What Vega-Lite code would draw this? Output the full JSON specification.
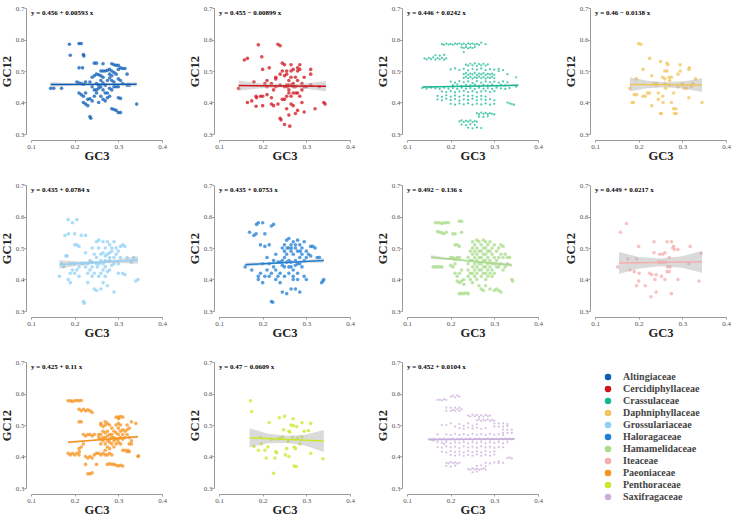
{
"$schema": "https://vega.github.io/schema/vega-lite/v6.json",
"background": "white",
"padding": {"left": 0, "top": 4, "right": 0, "bottom": 0},
"config": {
 "view": {"stroke": null},
 "font": "Liberation Serif",
 "header": {"labels": false, "title": null, "labelFontSize": 0, "labelPadding": 0, "titlePadding": 0},
 "headerFacet": {"labels": false, "title": null, "labelFontSize": 0, "labelPadding": 0, "titlePadding": 0},
 "axis": {"grid": false, "domainColor": "#9a9a9a", "tickColor": "#9a9a9a", "tickSize": 2, "labelColor": "#555555", "labelFont": "Liberation Serif", "labelFontSize": 7, "titleFont": "Liberation Serif", "titleFontSize": 12.5, "titleFontWeight": "bold", "titleColor": "#222222", "labelPadding": 0, "labelOverlap": false, "labelBound": false, "labelFlush": false},
 "axisX": {"offset": 6, "titlePadding": 0},
 "axisY": {"offset": 5, "titlePadding": 2},
 "legend": {"orient": "none", "legendX": 572, "legendY": 364, "title": null, "symbolType": "circle", "symbolSize": 25, "symbolOpacity": 1, "labelFont": "Liberation Serif", "labelFontWeight": "bold", "labelFontSize": 10, "labelColor": "#444444", "rowPadding": 0, "labelOffset": 10}
},
"data": {"values": [
{"g":"a","x":0.145,"y":0.445},{"g":"a","x":0.152,"y":0.445},{"g":"a","x":0.17,"y":0.445},{"g":"a","x":0.188,"y":0.585},{"g":"a","x":0.19,"y":0.55},{"g":"a","x":0.21,"y":0.587},{"g":"a","x":0.215,"y":0.587},{"g":"a","x":0.22,"y":0.552},{"g":"a","x":0.221,"y":0.548},{"g":"a","x":0.21,"y":0.51},{"g":"a","x":0.218,"y":0.51},{"g":"a","x":0.245,"y":0.525},{"g":"a","x":0.25,"y":0.525},{"g":"a","x":0.265,"y":0.523},{"g":"a","x":0.285,"y":0.523},{"g":"a","x":0.29,"y":0.52},{"g":"a","x":0.295,"y":0.518},{"g":"a","x":0.3,"y":0.518},
{"g":"a","x":0.205,"y":0.465},{"g":"a","x":0.21,"y":0.462},{"g":"a","x":0.215,"y":0.46},{"g":"a","x":0.22,"y":0.458},{"g":"a","x":0.225,"y":0.465},{"g":"a","x":0.235,"y":0.465},{"g":"a","x":0.24,"y":0.48},{"g":"a","x":0.245,"y":0.485},{"g":"a","x":0.25,"y":0.49},{"g":"a","x":0.255,"y":0.488},{"g":"a","x":0.26,"y":0.485},{"g":"a","x":0.265,"y":0.48},{"g":"a","x":0.27,"y":0.5},{"g":"a","x":0.275,"y":0.502},{"g":"a","x":0.28,"y":0.505},{"g":"a","x":0.285,"y":0.5},{"g":"a","x":0.29,"y":0.495},{"g":"a","x":0.295,"y":0.49},{"g":"a","x":0.3,"y":0.505},{"g":"a","x":0.305,"y":0.51},{"g":"a","x":0.31,"y":0.508},{"g":"a","x":0.315,"y":0.508},{"g":"a","x":0.32,"y":0.49},{"g":"a","x":0.32,"y":0.455},{"g":"a","x":0.325,"y":0.455},
{"g":"a","x":0.21,"y":0.43},{"g":"a","x":0.215,"y":0.425},{"g":"a","x":0.22,"y":0.42},{"g":"a","x":0.225,"y":0.43},{"g":"a","x":0.23,"y":0.41},{"g":"a","x":0.22,"y":0.4},{"g":"a","x":0.225,"y":0.395},{"g":"a","x":0.23,"y":0.39},{"g":"a","x":0.235,"y":0.412},{"g":"a","x":0.24,"y":0.405},{"g":"a","x":0.245,"y":0.42},{"g":"a","x":0.25,"y":0.44},{"g":"a","x":0.255,"y":0.445},{"g":"a","x":0.26,"y":0.45},{"g":"a","x":0.265,"y":0.44},{"g":"a","x":0.27,"y":0.43},{"g":"a","x":0.275,"y":0.415},{"g":"a","x":0.28,"y":0.42},{"g":"a","x":0.285,"y":0.44},{"g":"a","x":0.29,"y":0.45},{"g":"a","x":0.295,"y":0.45},{"g":"a","x":0.3,"y":0.415},{"g":"a","x":0.305,"y":0.413},{"g":"a","x":0.29,"y":0.378},{"g":"a","x":0.295,"y":0.375},{"g":"a","x":0.3,"y":0.368},{"g":"a","x":0.305,"y":0.368},{"g":"a","x":0.285,"y":0.38},{"g":"a","x":0.235,"y":0.355},{"g":"a","x":0.237,"y":0.35},{"g":"a","x":0.342,"y":0.395},
{"g":"a","x":0.25,"y":0.46},{"g":"a","x":0.255,"y":0.455},{"g":"a","x":0.26,"y":0.47},{"g":"a","x":0.265,"y":0.462},{"g":"a","x":0.27,"y":0.455},{"g":"a","x":0.275,"y":0.47},{"g":"a","x":0.28,"y":0.478},{"g":"a","x":0.285,"y":0.47},{"g":"a","x":0.29,"y":0.465},{"g":"a","x":0.3,"y":0.475},{"g":"a","x":0.305,"y":0.47},{"g":"a","x":0.25,"y":0.43},{"g":"a","x":0.26,"y":0.42},{"g":"a","x":0.265,"y":0.41},{"g":"a","x":0.27,"y":0.405},{"g":"a","x":0.255,"y":0.4},{"g":"a","x":0.245,"y":0.44},{"g":"a","x":0.24,"y":0.45},{"g":"a","x":0.26,"y":0.5},{"g":"a","x":0.265,"y":0.5},{"g":"a","x":0.28,"y":0.49},{"g":"a","x":0.285,"y":0.485},{"g":"a","x":0.3,"y":0.45},{"g":"a","x":0.31,"y":0.46},{"g":"a","x":0.275,"y":0.43},{"g":"a","x":0.28,"y":0.445},

{"g":"b","x":0.145,"y":0.445},{"g":"b","x":0.158,"y":0.535},{"g":"b","x":0.165,"y":0.54},{"g":"b","x":0.165,"y":0.4},{"g":"b","x":0.175,"y":0.405},{"g":"b","x":0.18,"y":0.465},{"g":"b","x":0.185,"y":0.42},{"g":"b","x":0.186,"y":0.415},{"g":"b","x":0.185,"y":0.388},{"g":"b","x":0.19,"y":0.583},{"g":"b","x":0.195,"y":0.42},{"g":"b","x":0.198,"y":0.545},{"g":"b","x":0.2,"y":0.39},{"g":"b","x":0.2,"y":0.505},{"g":"b","x":0.205,"y":0.46},{"g":"b","x":0.21,"y":0.47},{"g":"b","x":0.21,"y":0.425},{"g":"b","x":0.215,"y":0.51},{"g":"b","x":0.22,"y":0.415},{"g":"b","x":0.225,"y":0.44},{"g":"b","x":0.225,"y":0.39},{"g":"b","x":0.23,"y":0.475},{"g":"b","x":0.235,"y":0.395},{"g":"b","x":0.235,"y":0.585},{"g":"b","x":0.24,"y":0.58},{"g":"b","x":0.24,"y":0.35},{"g":"b","x":0.242,"y":0.345},{"g":"b","x":0.245,"y":0.41},{"g":"b","x":0.245,"y":0.5},{"g":"b","x":0.245,"y":0.525},{"g":"b","x":0.25,"y":0.485},{"g":"b","x":0.25,"y":0.52},{"g":"b","x":0.25,"y":0.33},{"g":"b","x":0.255,"y":0.455},{"g":"b","x":0.256,"y":0.45},{"g":"b","x":0.255,"y":0.49},{"g":"b","x":0.26,"y":0.44},{"g":"b","x":0.26,"y":0.47},{"g":"b","x":0.26,"y":0.36},{"g":"b","x":0.262,"y":0.325},{"g":"b","x":0.265,"y":0.5},{"g":"b","x":0.265,"y":0.42},{"g":"b","x":0.265,"y":0.395},{"g":"b","x":0.265,"y":0.52},{"g":"b","x":0.27,"y":0.46},{"g":"b","x":0.27,"y":0.43},{"g":"b","x":0.27,"y":0.505},{"g":"b","x":0.275,"y":0.48},{"g":"b","x":0.275,"y":0.45},{"g":"b","x":0.276,"y":0.43},{"g":"b","x":0.275,"y":0.365},{"g":"b","x":0.28,"y":0.5},{"g":"b","x":0.28,"y":0.51},{"g":"b","x":0.28,"y":0.47},{"g":"b","x":0.28,"y":0.375},{"g":"b","x":0.285,"y":0.505},{"g":"b","x":0.285,"y":0.52},{"g":"b","x":0.285,"y":0.42},{"g":"b","x":0.29,"y":0.44},{"g":"b","x":0.29,"y":0.4},{"g":"b","x":0.295,"y":0.45},{"g":"b","x":0.295,"y":0.48},{"g":"b","x":0.295,"y":0.37},{"g":"b","x":0.3,"y":0.45},{"g":"b","x":0.31,"y":0.505},{"g":"b","x":0.31,"y":0.49},{"g":"b","x":0.31,"y":0.455},{"g":"b","x":0.32,"y":0.38},{"g":"b","x":0.33,"y":0.45},{"g":"b","x":0.34,"y":0.4},{"g":"b","x":0.343,"y":0.395},
{"g":"b","x":0.22,"y":0.46},{"g":"b","x":0.23,"y":0.45},{"g":"b","x":0.24,"y":0.455},{"g":"b","x":0.25,"y":0.45},{"g":"b","x":0.26,"y":0.455},{"g":"b","x":0.266,"y":0.455},{"g":"b","x":0.27,"y":0.45},{"g":"b","x":0.25,"y":0.41},{"g":"b","x":0.255,"y":0.42},{"g":"b","x":0.26,"y":0.43},{"g":"b","x":0.27,"y":0.39},{"g":"b","x":0.24,"y":0.49},{"g":"b","x":0.255,"y":0.5},{"g":"b","x":0.265,"y":0.48},{"g":"b","x":0.23,"y":0.48},{"g":"b","x":0.21,"y":0.45},{"g":"b","x":0.2,"y":0.42},{"g":"b","x":0.28,"y":0.43},{"g":"b","x":0.29,"y":0.46},{"g":"b","x":0.255,"y":0.38},{"g":"b","x":0.22,"y":0.395},

{"g":"c","x":0.18,"y":0.585},{"g":"c","x":0.185,"y":0.583},{"g":"c","x":0.19,"y":0.587},{"g":"c","x":0.195,"y":0.584},{"g":"c","x":0.2,"y":0.586},{"g":"c","x":0.205,"y":0.583},{"g":"c","x":0.21,"y":0.587},{"g":"c","x":0.215,"y":0.585},{"g":"c","x":0.22,"y":0.588},{"g":"c","x":0.225,"y":0.584},{"g":"c","x":0.23,"y":0.587},{"g":"c","x":0.235,"y":0.583},{"g":"c","x":0.24,"y":0.588},{"g":"c","x":0.245,"y":0.585},{"g":"c","x":0.25,"y":0.587},{"g":"c","x":0.255,"y":0.584},{"g":"c","x":0.26,"y":0.586},{"g":"c","x":0.265,"y":0.583},{"g":"c","x":0.27,"y":0.59},{"g":"c","x":0.28,"y":0.585},
{"g":"c","x":0.225,"y":0.575},{"g":"c","x":0.23,"y":0.573},{"g":"c","x":0.235,"y":0.576},{"g":"c","x":0.24,"y":0.572},{"g":"c","x":0.245,"y":0.575},{"g":"c","x":0.25,"y":0.573},{"g":"c","x":0.255,"y":0.576},
{"g":"c","x":0.14,"y":0.54},{"g":"c","x":0.145,"y":0.537},{"g":"c","x":0.15,"y":0.542},{"g":"c","x":0.155,"y":0.538},{"g":"c","x":0.16,"y":0.543},{"g":"c","x":0.165,"y":0.536},{"g":"c","x":0.17,"y":0.541},{"g":"c","x":0.175,"y":0.537},{"g":"c","x":0.18,"y":0.542},{"g":"c","x":0.185,"y":0.536},{"g":"c","x":0.19,"y":0.54},{"g":"c","x":0.165,"y":0.55},{"g":"c","x":0.175,"y":0.549},{"g":"c","x":0.185,"y":0.551},
{"g":"c","x":0.235,"y":0.52},{"g":"c","x":0.24,"y":0.517},{"g":"c","x":0.245,"y":0.523},{"g":"c","x":0.25,"y":0.518},{"g":"c","x":0.255,"y":0.524},{"g":"c","x":0.26,"y":0.516},{"g":"c","x":0.265,"y":0.522},{"g":"c","x":0.27,"y":0.518},{"g":"c","x":0.275,"y":0.523},{"g":"c","x":0.28,"y":0.517},{"g":"c","x":0.285,"y":0.521},
{"g":"c","x":0.2,"y":0.505},{"g":"c","x":0.21,"y":0.508},{"g":"c","x":0.22,"y":0.503},{"g":"c","x":0.23,"y":0.507},{"g":"c","x":0.24,"y":0.502},{"g":"c","x":0.25,"y":0.506},{"g":"c","x":0.26,"y":0.504},{"g":"c","x":0.27,"y":0.508},{"g":"c","x":0.28,"y":0.503},{"g":"c","x":0.29,"y":0.506},{"g":"c","x":0.3,"y":0.504},{"g":"c","x":0.31,"y":0.507},{"g":"c","x":0.32,"y":0.503},
{"g":"c","x":0.23,"y":0.49},{"g":"c","x":0.235,"y":0.493},{"g":"c","x":0.24,"y":0.488},{"g":"c","x":0.245,"y":0.492},{"g":"c","x":0.25,"y":0.489},{"g":"c","x":0.255,"y":0.494},{"g":"c","x":0.26,"y":0.487},{"g":"c","x":0.265,"y":0.492},{"g":"c","x":0.27,"y":0.489},{"g":"c","x":0.275,"y":0.493},{"g":"c","x":0.28,"y":0.488},{"g":"c","x":0.285,"y":0.491},{"g":"c","x":0.29,"y":0.489},{"g":"c","x":0.295,"y":0.492},{"g":"c","x":0.3,"y":0.488},
{"g":"c","x":0.23,"y":0.478},{"g":"c","x":0.235,"y":0.482},{"g":"c","x":0.24,"y":0.477},{"g":"c","x":0.245,"y":0.481},{"g":"c","x":0.25,"y":0.476},{"g":"c","x":0.255,"y":0.48},{"g":"c","x":0.26,"y":0.478},{"g":"c","x":0.265,"y":0.482},{"g":"c","x":0.27,"y":0.477},{"g":"c","x":0.275,"y":0.481},{"g":"c","x":0.28,"y":0.476},{"g":"c","x":0.285,"y":0.48},{"g":"c","x":0.29,"y":0.478},{"g":"c","x":0.295,"y":0.482},{"g":"c","x":0.3,"y":0.477},
{"g":"c","x":0.2,"y":0.466},{"g":"c","x":0.21,"y":0.463},{"g":"c","x":0.22,"y":0.468},{"g":"c","x":0.23,"y":0.464},{"g":"c","x":0.24,"y":0.467},{"g":"c","x":0.25,"y":0.462},{"g":"c","x":0.26,"y":0.468},{"g":"c","x":0.27,"y":0.463},{"g":"c","x":0.28,"y":0.467},{"g":"c","x":0.29,"y":0.464},{"g":"c","x":0.3,"y":0.466},{"g":"c","x":0.31,"y":0.463},{"g":"c","x":0.32,"y":0.467},{"g":"c","x":0.33,"y":0.464},
{"g":"c","x":0.205,"y":0.455},{"g":"c","x":0.215,"y":0.457},{"g":"c","x":0.225,"y":0.453},{"g":"c","x":0.235,"y":0.456},{"g":"c","x":0.245,"y":0.454},{"g":"c","x":0.255,"y":0.457},{"g":"c","x":0.265,"y":0.453},{"g":"c","x":0.275,"y":0.456},{"g":"c","x":0.285,"y":0.454},{"g":"c","x":0.295,"y":0.457},{"g":"c","x":0.305,"y":0.453},{"g":"c","x":0.315,"y":0.456},{"g":"c","x":0.325,"y":0.454},
{"g":"c","x":0.135,"y":0.446},{"g":"c","x":0.145,"y":0.444},{"g":"c","x":0.155,"y":0.447},{"g":"c","x":0.165,"y":0.445},{"g":"c","x":0.175,"y":0.443},{"g":"c","x":0.185,"y":0.447},{"g":"c","x":0.195,"y":0.444},{"g":"c","x":0.205,"y":0.446},{"g":"c","x":0.215,"y":0.443},{"g":"c","x":0.225,"y":0.447},{"g":"c","x":0.235,"y":0.444},{"g":"c","x":0.245,"y":0.446},{"g":"c","x":0.255,"y":0.443},{"g":"c","x":0.265,"y":0.447},{"g":"c","x":0.275,"y":0.444},{"g":"c","x":0.285,"y":0.446},{"g":"c","x":0.295,"y":0.443},{"g":"c","x":0.305,"y":0.447},{"g":"c","x":0.315,"y":0.445},{"g":"c","x":0.325,"y":0.443},{"g":"c","x":0.335,"y":0.446},{"g":"c","x":0.35,"y":0.45},
{"g":"c","x":0.18,"y":0.435},{"g":"c","x":0.19,"y":0.433},{"g":"c","x":0.2,"y":0.436},{"g":"c","x":0.21,"y":0.432},{"g":"c","x":0.22,"y":0.435},{"g":"c","x":0.23,"y":0.437},{"g":"c","x":0.24,"y":0.433},{"g":"c","x":0.25,"y":0.436},{"g":"c","x":0.26,"y":0.432},{"g":"c","x":0.27,"y":0.435},{"g":"c","x":0.28,"y":0.437},{"g":"c","x":0.29,"y":0.433},{"g":"c","x":0.3,"y":0.436},
{"g":"c","x":0.17,"y":0.421},{"g":"c","x":0.18,"y":0.418},{"g":"c","x":0.19,"y":0.423},{"g":"c","x":0.2,"y":0.419},{"g":"c","x":0.21,"y":0.422},{"g":"c","x":0.22,"y":0.418},{"g":"c","x":0.23,"y":0.423},{"g":"c","x":0.24,"y":0.42},{"g":"c","x":0.25,"y":0.422},{"g":"c","x":0.26,"y":0.418},{"g":"c","x":0.27,"y":0.421},{"g":"c","x":0.28,"y":0.419},
{"g":"c","x":0.17,"y":0.41},{"g":"c","x":0.18,"y":0.407},{"g":"c","x":0.19,"y":0.412},{"g":"c","x":0.2,"y":0.408},{"g":"c","x":0.21,"y":0.411},{"g":"c","x":0.22,"y":0.406},{"g":"c","x":0.23,"y":0.41},{"g":"c","x":0.24,"y":0.408},{"g":"c","x":0.25,"y":0.412},{"g":"c","x":0.26,"y":0.407},{"g":"c","x":0.27,"y":0.41},{"g":"c","x":0.28,"y":0.408},{"g":"c","x":0.29,"y":0.411},{"g":"c","x":0.3,"y":0.407},
{"g":"c","x":0.2,"y":0.396},{"g":"c","x":0.21,"y":0.393},{"g":"c","x":0.22,"y":0.397},{"g":"c","x":0.23,"y":0.394},{"g":"c","x":0.24,"y":0.398},{"g":"c","x":0.25,"y":0.393},{"g":"c","x":0.26,"y":0.396},{"g":"c","x":0.27,"y":0.394},{"g":"c","x":0.28,"y":0.397},{"g":"c","x":0.29,"y":0.393},{"g":"c","x":0.3,"y":0.396},{"g":"c","x":0.33,"y":0.4},{"g":"c","x":0.335,"y":0.397},{"g":"c","x":0.34,"y":0.395},{"g":"c","x":0.345,"y":0.393},
{"g":"c","x":0.26,"y":0.366},{"g":"c","x":0.265,"y":0.363},{"g":"c","x":0.27,"y":0.368},{"g":"c","x":0.275,"y":0.364},{"g":"c","x":0.28,"y":0.367},{"g":"c","x":0.285,"y":0.363},{"g":"c","x":0.29,"y":0.366},{"g":"c","x":0.295,"y":0.364},{"g":"c","x":0.3,"y":0.362},{"g":"c","x":0.265,"y":0.355},{"g":"c","x":0.275,"y":0.354},{"g":"c","x":0.285,"y":0.356},
{"g":"c","x":0.22,"y":0.34},{"g":"c","x":0.225,"y":0.343},{"g":"c","x":0.23,"y":0.338},{"g":"c","x":0.235,"y":0.342},{"g":"c","x":0.24,"y":0.339},{"g":"c","x":0.245,"y":0.343},{"g":"c","x":0.25,"y":0.338},{"g":"c","x":0.255,"y":0.341},{"g":"c","x":0.26,"y":0.339},{"g":"c","x":0.225,"y":0.33},{"g":"c","x":0.235,"y":0.328},{"g":"c","x":0.245,"y":0.331},{"g":"c","x":0.255,"y":0.329},{"g":"c","x":0.24,"y":0.32},{"g":"c","x":0.25,"y":0.318},{"g":"c","x":0.26,"y":0.321},{"g":"c","x":0.27,"y":0.319},
{"g":"c","x":0.23,"y":0.56},{"g":"c","x":0.33,"y":0.49},{"g":"c","x":0.35,"y":0.48},{"g":"c","x":0.31,"y":0.5},

{"g":"d","x":0.18,"y":0.445},{"g":"d","x":0.185,"y":0.4},{"g":"d","x":0.188,"y":0.4},{"g":"d","x":0.19,"y":0.425},{"g":"d","x":0.195,"y":0.425},{"g":"d","x":0.195,"y":0.475},{"g":"d","x":0.2,"y":0.587},{"g":"d","x":0.205,"y":0.585},{"g":"d","x":0.21,"y":0.42},{"g":"d","x":0.215,"y":0.42},{"g":"d","x":0.21,"y":0.505},{"g":"d","x":0.22,"y":0.43},{"g":"d","x":0.225,"y":0.43},{"g":"d","x":0.225,"y":0.54},{"g":"d","x":0.23,"y":0.485},{"g":"d","x":0.23,"y":0.39},{"g":"d","x":0.235,"y":0.46},{"g":"d","x":0.24,"y":0.455},{"g":"d","x":0.245,"y":0.43},{"g":"d","x":0.245,"y":0.41},{"g":"d","x":0.25,"y":0.365},{"g":"d","x":0.252,"y":0.365},{"g":"d","x":0.25,"y":0.53},{"g":"d","x":0.255,"y":0.48},{"g":"d","x":0.255,"y":0.42},{"g":"d","x":0.256,"y":0.4},{"g":"d","x":0.26,"y":0.5},{"g":"d","x":0.26,"y":0.475},{"g":"d","x":0.26,"y":0.46},{"g":"d","x":0.262,"y":0.445},{"g":"d","x":0.265,"y":0.525},{"g":"d","x":0.267,"y":0.52},{"g":"d","x":0.265,"y":0.5},{"g":"d","x":0.27,"y":0.48},{"g":"d","x":0.27,"y":0.455},{"g":"d","x":0.275,"y":0.48},{"g":"d","x":0.275,"y":0.4},{"g":"d","x":0.28,"y":0.43},{"g":"d","x":0.28,"y":0.38},{"g":"d","x":0.282,"y":0.365},{"g":"d","x":0.285,"y":0.38},{"g":"d","x":0.286,"y":0.365},{"g":"d","x":0.29,"y":0.45},{"g":"d","x":0.29,"y":0.49},{"g":"d","x":0.295,"y":0.5},{"g":"d","x":0.295,"y":0.52},{"g":"d","x":0.3,"y":0.46},{"g":"d","x":0.305,"y":0.445},{"g":"d","x":0.31,"y":0.445},{"g":"d","x":0.315,"y":0.505},{"g":"d","x":0.316,"y":0.51},{"g":"d","x":0.315,"y":0.415},{"g":"d","x":0.32,"y":0.45},{"g":"d","x":0.322,"y":0.455},{"g":"d","x":0.325,"y":0.46},{"g":"d","x":0.33,"y":0.475},{"g":"d","x":0.345,"y":0.4},{"g":"d","x":0.271,"y":0.47},{"g":"d","x":0.241,"y":0.46},{"g":"d","x":0.3,"y":0.455},

{"g":"e","x":0.165,"y":0.41},{"g":"e","x":0.17,"y":0.45},{"g":"e","x":0.175,"y":0.44},{"g":"e","x":0.178,"y":0.54},{"g":"e","x":0.18,"y":0.475},{"g":"e","x":0.183,"y":0.475},{"g":"e","x":0.185,"y":0.59},{"g":"e","x":0.186,"y":0.545},{"g":"e","x":0.185,"y":0.4},{"g":"e","x":0.19,"y":0.39},{"g":"e","x":0.19,"y":0.42},{"g":"e","x":0.19,"y":0.45},{"g":"e","x":0.195,"y":0.58},{"g":"e","x":0.2,"y":0.545},{"g":"e","x":0.2,"y":0.51},{"g":"e","x":0.205,"y":0.59},{"g":"e","x":0.205,"y":0.51},{"g":"e","x":0.2,"y":0.45},{"g":"e","x":0.205,"y":0.43},{"g":"e","x":0.21,"y":0.44},{"g":"e","x":0.21,"y":0.505},{"g":"e","x":0.21,"y":0.41},{"g":"e","x":0.215,"y":0.54},{"g":"e","x":0.215,"y":0.45},{"g":"e","x":0.22,"y":0.33},{"g":"e","x":0.222,"y":0.325},{"g":"e","x":0.225,"y":0.54},{"g":"e","x":0.225,"y":0.485},{"g":"e","x":0.225,"y":0.44},{"g":"e","x":0.23,"y":0.42},{"g":"e","x":0.23,"y":0.39},{"g":"e","x":0.235,"y":0.46},{"g":"e","x":0.235,"y":0.43},{"g":"e","x":0.24,"y":0.5},{"g":"e","x":0.24,"y":0.41},{"g":"e","x":0.245,"y":0.42},{"g":"e","x":0.245,"y":0.37},{"g":"e","x":0.25,"y":0.52},{"g":"e","x":0.25,"y":0.45},{"g":"e","x":0.25,"y":0.365},{"g":"e","x":0.252,"y":0.44},{"g":"e","x":0.255,"y":0.525},{"g":"e","x":0.255,"y":0.5},{"g":"e","x":0.255,"y":0.41},{"g":"e","x":0.26,"y":0.48},{"g":"e","x":0.26,"y":0.37},{"g":"e","x":0.265,"y":0.52},{"g":"e","x":0.265,"y":0.485},{"g":"e","x":0.265,"y":0.45},{"g":"e","x":0.265,"y":0.43},{"g":"e","x":0.27,"y":0.5},{"g":"e","x":0.27,"y":0.475},{"g":"e","x":0.27,"y":0.44},{"g":"e","x":0.275,"y":0.52},{"g":"e","x":0.275,"y":0.48},{"g":"e","x":0.275,"y":0.425},{"g":"e","x":0.275,"y":0.38},{"g":"e","x":0.28,"y":0.51},{"g":"e","x":0.28,"y":0.485},{"g":"e","x":0.28,"y":0.46},{"g":"e","x":0.285,"y":0.5},{"g":"e","x":0.285,"y":0.49},{"g":"e","x":0.285,"y":0.445},{"g":"e","x":0.29,"y":0.52},{"g":"e","x":0.29,"y":0.47},{"g":"e","x":0.29,"y":0.36},{"g":"e","x":0.295,"y":0.5},{"g":"e","x":0.295,"y":0.48},{"g":"e","x":0.3,"y":0.49},{"g":"e","x":0.3,"y":0.45},{"g":"e","x":0.305,"y":0.505},{"g":"e","x":0.305,"y":0.47},{"g":"e","x":0.31,"y":0.51},{"g":"e","x":0.31,"y":0.42},{"g":"e","x":0.315,"y":0.505},{"g":"e","x":0.315,"y":0.415},{"g":"e","x":0.32,"y":0.47},{"g":"e","x":0.33,"y":0.455},{"g":"e","x":0.335,"y":0.47},{"g":"e","x":0.34,"y":0.395},{"g":"e","x":0.345,"y":0.4},{"g":"e","x":0.25,"y":0.47},{"g":"e","x":0.26,"y":0.46},{"g":"e","x":0.24,"y":0.455},{"g":"e","x":0.27,"y":0.46},{"g":"e","x":0.28,"y":0.47},{"g":"e","x":0.256,"y":0.45},{"g":"e","x":0.245,"y":0.48},{"g":"e","x":0.29,"y":0.45},{"g":"e","x":0.23,"y":0.45},{"g":"e","x":0.22,"y":0.45},{"g":"e","x":0.2,"y":0.42},{"g":"e","x":0.195,"y":0.43},{"g":"e","x":0.26,"y":0.42},{"g":"e","x":0.27,"y":0.41},{"g":"e","x":0.24,"y":0.44},{"g":"e","x":0.28,"y":0.43},{"g":"e","x":0.3,"y":0.42},{"g":"e","x":0.265,"y":0.39},

{"g":"f","x":0.16,"y":0.44},{"g":"f","x":0.17,"y":0.55},{"g":"f","x":0.175,"y":0.43},{"g":"f","x":0.18,"y":0.54},{"g":"f","x":0.185,"y":0.545},{"g":"f","x":0.186,"y":0.575},{"g":"f","x":0.19,"y":0.58},{"g":"f","x":0.19,"y":0.4},{"g":"f","x":0.19,"y":0.41},{"g":"f","x":0.195,"y":0.51},{"g":"f","x":0.195,"y":0.42},{"g":"f","x":0.2,"y":0.58},{"g":"f","x":0.2,"y":0.39},{"g":"f","x":0.2,"y":0.45},{"g":"f","x":0.205,"y":0.505},{"g":"f","x":0.205,"y":0.545},{"g":"f","x":0.21,"y":0.43},{"g":"f","x":0.21,"y":0.47},{"g":"f","x":0.215,"y":0.51},{"g":"f","x":0.215,"y":0.41},{"g":"f","x":0.22,"y":0.33},{"g":"f","x":0.223,"y":0.328},{"g":"f","x":0.22,"y":0.57},{"g":"f","x":0.225,"y":0.575},{"g":"f","x":0.225,"y":0.44},{"g":"f","x":0.23,"y":0.4},{"g":"f","x":0.23,"y":0.48},{"g":"f","x":0.235,"y":0.455},{"g":"f","x":0.24,"y":0.42},{"g":"f","x":0.24,"y":0.39},{"g":"f","x":0.245,"y":0.36},{"g":"f","x":0.245,"y":0.445},{"g":"f","x":0.25,"y":0.49},{"g":"f","x":0.25,"y":0.51},{"g":"f","x":0.25,"y":0.47},{"g":"f","x":0.25,"y":0.41},{"g":"f","x":0.255,"y":0.525},{"g":"f","x":0.255,"y":0.48},{"g":"f","x":0.255,"y":0.355},{"g":"f","x":0.26,"y":0.53},{"g":"f","x":0.26,"y":0.5},{"g":"f","x":0.26,"y":0.46},{"g":"f","x":0.26,"y":0.42},{"g":"f","x":0.265,"y":0.51},{"g":"f","x":0.265,"y":0.49},{"g":"f","x":0.265,"y":0.44},{"g":"f","x":0.265,"y":0.37},{"g":"f","x":0.27,"y":0.52},{"g":"f","x":0.27,"y":0.48},{"g":"f","x":0.27,"y":0.43},{"g":"f","x":0.27,"y":0.4},{"g":"f","x":0.275,"y":0.5},{"g":"f","x":0.275,"y":0.46},{"g":"f","x":0.275,"y":0.37},{"g":"f","x":0.28,"y":0.525},{"g":"f","x":0.28,"y":0.49},{"g":"f","x":0.28,"y":0.45},{"g":"f","x":0.28,"y":0.42},{"g":"f","x":0.285,"y":0.51},{"g":"f","x":0.285,"y":0.47},{"g":"f","x":0.285,"y":0.36},{"g":"f","x":0.29,"y":0.5},{"g":"f","x":0.29,"y":0.48},{"g":"f","x":0.29,"y":0.44},{"g":"f","x":0.295,"y":0.52},{"g":"f","x":0.295,"y":0.46},{"g":"f","x":0.295,"y":0.41},{"g":"f","x":0.3,"y":0.49},{"g":"f","x":0.3,"y":0.4},{"g":"f","x":0.3,"y":0.47},{"g":"f","x":0.305,"y":0.48},{"g":"f","x":0.31,"y":0.505},{"g":"f","x":0.31,"y":0.475},{"g":"f","x":0.315,"y":0.505},{"g":"f","x":0.32,"y":0.5},{"g":"f","x":0.325,"y":0.47},{"g":"f","x":0.33,"y":0.47},{"g":"f","x":0.335,"y":0.39},{"g":"f","x":0.338,"y":0.395},{"g":"f","x":0.34,"y":0.4},{"g":"f","x":0.24,"y":0.455},{"g":"f","x":0.245,"y":0.46},{"g":"f","x":0.255,"y":0.455},{"g":"f","x":0.265,"y":0.455},{"g":"f","x":0.275,"y":0.445},{"g":"f","x":0.285,"y":0.45},{"g":"f","x":0.23,"y":0.43},{"g":"f","x":0.22,"y":0.42},{"g":"f","x":0.215,"y":0.45},{"g":"f","x":0.205,"y":0.41},{"g":"f","x":0.25,"y":0.44},{"g":"f","x":0.26,"y":0.44},{"g":"f","x":0.27,"y":0.41},{"g":"f","x":0.28,"y":0.4},{"g":"f","x":0.235,"y":0.41},{"g":"f","x":0.225,"y":0.46},{"g":"f","x":0.245,"y":0.5},{"g":"f","x":0.256,"y":0.5},{"g":"f","x":0.266,"y":0.5},{"g":"f","x":0.275,"y":0.51},{"g":"f","x":0.286,"y":0.49},

{"g":"g","x":0.165,"y":0.58},{"g":"g","x":0.17,"y":0.58},{"g":"g","x":0.175,"y":0.58},{"g":"g","x":0.18,"y":0.578},{"g":"g","x":0.185,"y":0.58},{"g":"g","x":0.19,"y":0.58},{"g":"g","x":0.195,"y":0.58},{"g":"g","x":0.22,"y":0.585},{"g":"g","x":0.225,"y":0.585},{"g":"g","x":0.17,"y":0.552},{"g":"g","x":0.175,"y":0.55},{"g":"g","x":0.18,"y":0.548},{"g":"g","x":0.185,"y":0.545},{"g":"g","x":0.19,"y":0.55},{"g":"g","x":0.205,"y":0.545},{"g":"g","x":0.21,"y":0.545},{"g":"g","x":0.225,"y":0.55},{"g":"g","x":0.16,"y":0.44},{"g":"g","x":0.165,"y":0.44},{"g":"g","x":0.17,"y":0.44},{"g":"g","x":0.175,"y":0.44},{"g":"g","x":0.18,"y":0.44},{"g":"g","x":0.2,"y":0.47},{"g":"g","x":0.205,"y":0.47},{"g":"g","x":0.21,"y":0.465},{"g":"g","x":0.215,"y":0.47},{"g":"g","x":0.22,"y":0.47},{"g":"g","x":0.2,"y":0.445},{"g":"g","x":0.205,"y":0.44},{"g":"g","x":0.21,"y":0.45},{"g":"g","x":0.21,"y":0.51},{"g":"g","x":0.215,"y":0.51},{"g":"g","x":0.22,"y":0.505},{"g":"g","x":0.21,"y":0.42},{"g":"g","x":0.215,"y":0.41},{"g":"g","x":0.22,"y":0.42},{"g":"g","x":0.225,"y":0.43},{"g":"g","x":0.23,"y":0.4},{"g":"g","x":0.215,"y":0.395},{"g":"g","x":0.22,"y":0.39},{"g":"g","x":0.225,"y":0.395},{"g":"g","x":0.23,"y":0.385},{"g":"g","x":0.22,"y":0.355},{"g":"g","x":0.225,"y":0.355},{"g":"g","x":0.23,"y":0.355},{"g":"g","x":0.235,"y":0.357},{"g":"g","x":0.24,"y":0.355},
{"g":"g","x":0.24,"y":0.47},{"g":"g","x":0.24,"y":0.45},{"g":"g","x":0.24,"y":0.43},{"g":"g","x":0.24,"y":0.41},{"g":"g","x":0.245,"y":0.49},{"g":"g","x":0.245,"y":0.46},{"g":"g","x":0.245,"y":0.42},{"g":"g","x":0.245,"y":0.4},{"g":"g","x":0.25,"y":0.52},{"g":"g","x":0.25,"y":0.5},{"g":"g","x":0.25,"y":0.48},{"g":"g","x":0.25,"y":0.46},{"g":"g","x":0.25,"y":0.44},{"g":"g","x":0.25,"y":0.42},{"g":"g","x":0.25,"y":0.39},{"g":"g","x":0.255,"y":0.51},{"g":"g","x":0.255,"y":0.49},{"g":"g","x":0.255,"y":0.47},{"g":"g","x":0.255,"y":0.45},{"g":"g","x":0.255,"y":0.43},{"g":"g","x":0.255,"y":0.41},{"g":"g","x":0.26,"y":0.525},{"g":"g","x":0.26,"y":0.5},{"g":"g","x":0.26,"y":0.48},{"g":"g","x":0.26,"y":0.46},{"g":"g","x":0.26,"y":0.44},{"g":"g","x":0.26,"y":0.42},{"g":"g","x":0.26,"y":0.4},{"g":"g","x":0.265,"y":0.52},{"g":"g","x":0.265,"y":0.49},{"g":"g","x":0.265,"y":0.47},{"g":"g","x":0.265,"y":0.45},{"g":"g","x":0.265,"y":0.43},{"g":"g","x":0.265,"y":0.38},{"g":"g","x":0.27,"y":0.51},{"g":"g","x":0.27,"y":0.49},{"g":"g","x":0.27,"y":0.47},{"g":"g","x":0.27,"y":0.45},{"g":"g","x":0.27,"y":0.43},{"g":"g","x":0.27,"y":0.41},{"g":"g","x":0.27,"y":0.37},{"g":"g","x":0.275,"y":0.525},{"g":"g","x":0.275,"y":0.5},{"g":"g","x":0.275,"y":0.48},{"g":"g","x":0.275,"y":0.46},{"g":"g","x":0.275,"y":0.44},{"g":"g","x":0.275,"y":0.42},{"g":"g","x":0.275,"y":0.365},{"g":"g","x":0.28,"y":0.52},{"g":"g","x":0.28,"y":0.5},{"g":"g","x":0.28,"y":0.48},{"g":"g","x":0.28,"y":0.46},{"g":"g","x":0.28,"y":0.44},{"g":"g","x":0.28,"y":0.42},{"g":"g","x":0.28,"y":0.4},{"g":"g","x":0.28,"y":0.38},{"g":"g","x":0.285,"y":0.51},{"g":"g","x":0.285,"y":0.49},{"g":"g","x":0.285,"y":0.47},{"g":"g","x":0.285,"y":0.45},{"g":"g","x":0.285,"y":0.43},{"g":"g","x":0.285,"y":0.41},{"g":"g","x":0.29,"y":0.52},{"g":"g","x":0.29,"y":0.49},{"g":"g","x":0.29,"y":0.46},{"g":"g","x":0.29,"y":0.44},{"g":"g","x":0.29,"y":0.42},{"g":"g","x":0.29,"y":0.37},{"g":"g","x":0.295,"y":0.5},{"g":"g","x":0.295,"y":0.48},{"g":"g","x":0.295,"y":0.45},{"g":"g","x":0.295,"y":0.43},{"g":"g","x":0.295,"y":0.41},{"g":"g","x":0.3,"y":0.51},{"g":"g","x":0.3,"y":0.47},{"g":"g","x":0.3,"y":0.45},{"g":"g","x":0.3,"y":0.42},{"g":"g","x":0.3,"y":0.365},{"g":"g","x":0.305,"y":0.49},{"g":"g","x":0.305,"y":0.46},{"g":"g","x":0.305,"y":0.44},{"g":"g","x":0.305,"y":0.37},{"g":"g","x":0.31,"y":0.5},{"g":"g","x":0.31,"y":0.47},{"g":"g","x":0.31,"y":0.44},{"g":"g","x":0.31,"y":0.365},{"g":"g","x":0.315,"y":0.51},{"g":"g","x":0.315,"y":0.48},{"g":"g","x":0.315,"y":0.45},{"g":"g","x":0.315,"y":0.36},{"g":"g","x":0.32,"y":0.505},{"g":"g","x":0.32,"y":0.47},{"g":"g","x":0.32,"y":0.43},{"g":"g","x":0.325,"y":0.48},{"g":"g","x":0.325,"y":0.44},{"g":"g","x":0.33,"y":0.47},{"g":"g","x":0.33,"y":0.45},{"g":"g","x":0.335,"y":0.47},{"g":"g","x":0.34,"y":0.4},{"g":"g","x":0.342,"y":0.395},

{"g":"h","x":0.152,"y":0.44},{"g":"h","x":0.158,"y":0.55},{"g":"h","x":0.172,"y":0.578},{"g":"h","x":0.175,"y":0.465},{"g":"h","x":0.18,"y":0.43},{"g":"h","x":0.19,"y":0.425},{"g":"h","x":0.195,"y":0.465},{"g":"h","x":0.195,"y":0.38},{"g":"h","x":0.2,"y":0.395},{"g":"h","x":0.2,"y":0.505},{"g":"h","x":0.201,"y":0.42},{"g":"h","x":0.215,"y":0.38},{"g":"h","x":0.225,"y":0.42},{"g":"h","x":0.228,"y":0.345},{"g":"h","x":0.23,"y":0.415},{"g":"h","x":0.235,"y":0.485},{"g":"h","x":0.235,"y":0.52},{"g":"h","x":0.237,"y":0.4},{"g":"h","x":0.24,"y":0.36},{"g":"h","x":0.245,"y":0.455},{"g":"h","x":0.248,"y":0.48},{"g":"h","x":0.25,"y":0.455},{"g":"h","x":0.252,"y":0.41},{"g":"h","x":0.255,"y":0.48},{"g":"h","x":0.256,"y":0.455},{"g":"h","x":0.26,"y":0.4},{"g":"h","x":0.26,"y":0.485},{"g":"h","x":0.262,"y":0.455},{"g":"h","x":0.265,"y":0.425},{"g":"h","x":0.265,"y":0.52},{"g":"h","x":0.27,"y":0.47},{"g":"h","x":0.27,"y":0.425},{"g":"h","x":0.272,"y":0.44},{"g":"h","x":0.275,"y":0.52},{"g":"h","x":0.275,"y":0.355},{"g":"h","x":0.278,"y":0.5},{"g":"h","x":0.28,"y":0.505},{"g":"h","x":0.282,"y":0.495},{"g":"h","x":0.29,"y":0.4},{"g":"h","x":0.29,"y":0.495},{"g":"h","x":0.315,"y":0.45},{"g":"h","x":0.318,"y":0.505},{"g":"h","x":0.338,"y":0.395},{"g":"h","x":0.343,"y":0.483},{"g":"h","x":0.24,"y":0.415},{"g":"h","x":0.266,"y":0.44},

{"g":"i","x":0.185,"y":0.577},{"g":"i","x":0.19,"y":0.577},{"g":"i","x":0.195,"y":0.575},{"g":"i","x":0.2,"y":0.577},{"g":"i","x":0.205,"y":0.578},{"g":"i","x":0.21,"y":0.577},{"g":"i","x":0.215,"y":0.578},{"g":"i","x":0.21,"y":0.55},{"g":"i","x":0.215,"y":0.545},{"g":"i","x":0.22,"y":0.55},{"g":"i","x":0.225,"y":0.545},{"g":"i","x":0.23,"y":0.548},{"g":"i","x":0.235,"y":0.545},{"g":"i","x":0.24,"y":0.54},{"g":"i","x":0.21,"y":0.51},{"g":"i","x":0.215,"y":0.51},{"g":"i","x":0.185,"y":0.41},{"g":"i","x":0.19,"y":0.405},{"g":"i","x":0.195,"y":0.41},{"g":"i","x":0.2,"y":0.405},{"g":"i","x":0.205,"y":0.41},{"g":"i","x":0.21,"y":0.405},{"g":"i","x":0.21,"y":0.425},{"g":"i","x":0.215,"y":0.43},{"g":"i","x":0.22,"y":0.44},{"g":"i","x":0.211,"y":0.415},{"g":"i","x":0.22,"y":0.47},{"g":"i","x":0.225,"y":0.465},{"g":"i","x":0.23,"y":0.47},{"g":"i","x":0.235,"y":0.47},{"g":"i","x":0.24,"y":0.465},{"g":"i","x":0.245,"y":0.47},{"g":"i","x":0.225,"y":0.4},{"g":"i","x":0.23,"y":0.395},{"g":"i","x":0.235,"y":0.4},{"g":"i","x":0.24,"y":0.395},{"g":"i","x":0.245,"y":0.405},{"g":"i","x":0.25,"y":0.41},{"g":"i","x":0.255,"y":0.41},{"g":"i","x":0.26,"y":0.405},{"g":"i","x":0.265,"y":0.41},{"g":"i","x":0.27,"y":0.405},{"g":"i","x":0.275,"y":0.405},{"g":"i","x":0.28,"y":0.41},{"g":"i","x":0.285,"y":0.405},{"g":"i","x":0.23,"y":0.345},{"g":"i","x":0.235,"y":0.345},{"g":"i","x":0.24,"y":0.348},{"g":"i","x":0.225,"y":0.375},{"g":"i","x":0.25,"y":0.375},{"g":"i","x":0.275,"y":0.375},{"g":"i","x":0.28,"y":0.377},{"g":"i","x":0.285,"y":0.375},{"g":"i","x":0.29,"y":0.375},{"g":"i","x":0.295,"y":0.372},{"g":"i","x":0.3,"y":0.37},{"g":"i","x":0.305,"y":0.372},{"g":"i","x":0.31,"y":0.37},{"g":"i","x":0.295,"y":0.525},{"g":"i","x":0.3,"y":0.525},{"g":"i","x":0.305,"y":0.527},{"g":"i","x":0.31,"y":0.525},{"g":"i","x":0.301,"y":0.52},
{"g":"i","x":0.255,"y":0.46},{"g":"i","x":0.255,"y":0.47},{"g":"i","x":0.26,"y":0.5},{"g":"i","x":0.26,"y":0.47},{"g":"i","x":0.26,"y":0.455},{"g":"i","x":0.26,"y":0.44},{"g":"i","x":0.265,"y":0.495},{"g":"i","x":0.265,"y":0.48},{"g":"i","x":0.265,"y":0.46},{"g":"i","x":0.265,"y":0.45},{"g":"i","x":0.27,"y":0.5},{"g":"i","x":0.27,"y":0.475},{"g":"i","x":0.27,"y":0.46},{"g":"i","x":0.27,"y":0.44},{"g":"i","x":0.27,"y":0.42},{"g":"i","x":0.275,"y":0.505},{"g":"i","x":0.275,"y":0.48},{"g":"i","x":0.275,"y":0.465},{"g":"i","x":0.275,"y":0.45},{"g":"i","x":0.275,"y":0.43},{"g":"i","x":0.28,"y":0.5},{"g":"i","x":0.28,"y":0.47},{"g":"i","x":0.28,"y":0.455},{"g":"i","x":0.28,"y":0.445},{"g":"i","x":0.28,"y":0.425},{"g":"i","x":0.285,"y":0.49},{"g":"i","x":0.285,"y":0.47},{"g":"i","x":0.285,"y":0.46},{"g":"i","x":0.285,"y":0.44},{"g":"i","x":0.29,"y":0.48},{"g":"i","x":0.29,"y":0.46},{"g":"i","x":0.29,"y":0.45},{"g":"i","x":0.29,"y":0.43},{"g":"i","x":0.295,"y":0.5},{"g":"i","x":0.295,"y":0.475},{"g":"i","x":0.295,"y":0.455},{"g":"i","x":0.295,"y":0.44},{"g":"i","x":0.3,"y":0.505},{"g":"i","x":0.3,"y":0.49},{"g":"i","x":0.3,"y":0.47},{"g":"i","x":0.3,"y":0.455},{"g":"i","x":0.3,"y":0.445},{"g":"i","x":0.305,"y":0.5},{"g":"i","x":0.305,"y":0.48},{"g":"i","x":0.305,"y":0.46},{"g":"i","x":0.305,"y":0.44},{"g":"i","x":0.31,"y":0.485},{"g":"i","x":0.31,"y":0.47},{"g":"i","x":0.31,"y":0.455},{"g":"i","x":0.31,"y":0.42},{"g":"i","x":0.315,"y":0.48},{"g":"i","x":0.315,"y":0.46},{"g":"i","x":0.315,"y":0.42},{"g":"i","x":0.32,"y":0.5},{"g":"i","x":0.32,"y":0.485},{"g":"i","x":0.32,"y":0.47},{"g":"i","x":0.32,"y":0.415},{"g":"i","x":0.322,"y":0.42},{"g":"i","x":0.325,"y":0.49},{"g":"i","x":0.325,"y":0.46},{"g":"i","x":0.325,"y":0.44},{"g":"i","x":0.325,"y":0.415},{"g":"i","x":0.33,"y":0.51},{"g":"i","x":0.33,"y":0.45},{"g":"i","x":0.33,"y":0.44},{"g":"i","x":0.34,"y":0.505},{"g":"i","x":0.345,"y":0.4},{"g":"i","x":0.346,"y":0.402},{"g":"i","x":0.26,"y":0.505},{"g":"i","x":0.27,"y":0.51},

{"g":"j","x":0.172,"y":0.577},{"g":"j","x":0.175,"y":0.543},{"g":"j","x":0.18,"y":0.432},{"g":"j","x":0.19,"y":0.42},{"g":"j","x":0.195,"y":0.46},{"g":"j","x":0.197,"y":0.44},{"g":"j","x":0.205,"y":0.42},{"g":"j","x":0.208,"y":0.395},{"g":"j","x":0.212,"y":0.43},{"g":"j","x":0.215,"y":0.508},{"g":"j","x":0.22,"y":0.455},{"g":"j","x":0.225,"y":0.347},{"g":"j","x":0.228,"y":0.395},{"g":"j","x":0.23,"y":0.415},{"g":"j","x":0.232,"y":0.412},{"g":"j","x":0.235,"y":0.455},{"g":"j","x":0.238,"y":0.523},{"g":"j","x":0.24,"y":0.457},{"g":"j","x":0.245,"y":0.462},{"g":"j","x":0.248,"y":0.485},{"g":"j","x":0.25,"y":0.528},{"g":"j","x":0.252,"y":0.405},{"g":"j","x":0.255,"y":0.425},{"g":"j","x":0.258,"y":0.448},{"g":"j","x":0.26,"y":0.4},{"g":"j","x":0.262,"y":0.478},{"g":"j","x":0.265,"y":0.5},{"g":"j","x":0.268,"y":0.46},{"g":"j","x":0.27,"y":0.498},{"g":"j","x":0.27,"y":0.52},{"g":"j","x":0.272,"y":0.43},{"g":"j","x":0.272,"y":0.37},{"g":"j","x":0.275,"y":0.425},{"g":"j","x":0.277,"y":0.368},{"g":"j","x":0.278,"y":0.495},{"g":"j","x":0.28,"y":0.458},{"g":"j","x":0.285,"y":0.44},{"g":"j","x":0.29,"y":0.507},{"g":"j","x":0.29,"y":0.462},{"g":"j","x":0.295,"y":0.48},{"g":"j","x":0.305,"y":0.482},{"g":"j","x":0.31,"y":0.505},{"g":"j","x":0.31,"y":0.41},{"g":"j","x":0.338,"y":0.393},{"g":"j","x":0.26,"y":0.48},

{"g":"k","x":0.2,"y":0.59},{"g":"k","x":0.205,"y":0.593},{"g":"k","x":0.21,"y":0.588},{"g":"k","x":0.215,"y":0.594},{"g":"k","x":0.22,"y":0.59},{"g":"k","x":0.175,"y":0.58},{"g":"k","x":0.18,"y":0.578},{"g":"k","x":0.185,"y":0.582},{"g":"k","x":0.19,"y":0.58},
{"g":"k","x":0.19,"y":0.545},{"g":"k","x":0.19,"y":0.555},{"g":"k","x":0.2,"y":0.545},{"g":"k","x":0.2,"y":0.555},{"g":"k","x":0.205,"y":0.548},{"g":"k","x":0.21,"y":0.545},{"g":"k","x":0.21,"y":0.555},{"g":"k","x":0.215,"y":0.55},{"g":"k","x":0.22,"y":0.545},{"g":"k","x":0.22,"y":0.555},{"g":"k","x":0.225,"y":0.55},
{"g":"k","x":0.19,"y":0.5},{"g":"k","x":0.2,"y":0.505},{"g":"k","x":0.21,"y":0.495},{"g":"k","x":0.22,"y":0.503},{"g":"k","x":0.23,"y":0.497},{"g":"k","x":0.24,"y":0.505},{"g":"k","x":0.25,"y":0.498},{"g":"k","x":0.26,"y":0.502},
{"g":"k","x":0.24,"y":0.53},{"g":"k","x":0.245,"y":0.527},{"g":"k","x":0.25,"y":0.533},{"g":"k","x":0.255,"y":0.528},{"g":"k","x":0.26,"y":0.532},{"g":"k","x":0.265,"y":0.526},{"g":"k","x":0.27,"y":0.531},{"g":"k","x":0.275,"y":0.527},{"g":"k","x":0.28,"y":0.532},{"g":"k","x":0.285,"y":0.528},{"g":"k","x":0.29,"y":0.53},
{"g":"k","x":0.26,"y":0.515},{"g":"k","x":0.265,"y":0.518},{"g":"k","x":0.27,"y":0.513},{"g":"k","x":0.275,"y":0.517},{"g":"k","x":0.28,"y":0.514},{"g":"k","x":0.285,"y":0.518},{"g":"k","x":0.29,"y":0.513},{"g":"k","x":0.295,"y":0.516},{"g":"k","x":0.3,"y":0.514},
{"g":"k","x":0.3,"y":0.495},{"g":"k","x":0.3,"y":0.505},{"g":"k","x":0.31,"y":0.495},{"g":"k","x":0.31,"y":0.505},{"g":"k","x":0.32,"y":0.495},{"g":"k","x":0.32,"y":0.505},{"g":"k","x":0.33,"y":0.497},{"g":"k","x":0.33,"y":0.503},{"g":"k","x":0.32,"y":0.475},{"g":"k","x":0.32,"y":0.485},{"g":"k","x":0.33,"y":0.475},{"g":"k","x":0.33,"y":0.485},{"g":"k","x":0.34,"y":0.475},{"g":"k","x":0.34,"y":0.485},
{"g":"k","x":0.22,"y":0.49},{"g":"k","x":0.23,"y":0.488},{"g":"k","x":0.24,"y":0.492},{"g":"k","x":0.25,"y":0.489},{"g":"k","x":0.26,"y":0.491},{"g":"k","x":0.27,"y":0.488},{"g":"k","x":0.28,"y":0.49},
{"g":"k","x":0.19,"y":0.47},{"g":"k","x":0.2,"y":0.468},{"g":"k","x":0.21,"y":0.472},{"g":"k","x":0.22,"y":0.469},{"g":"k","x":0.23,"y":0.471},{"g":"k","x":0.24,"y":0.468},{"g":"k","x":0.25,"y":0.472},{"g":"k","x":0.26,"y":0.469},{"g":"k","x":0.27,"y":0.471},{"g":"k","x":0.28,"y":0.468},{"g":"k","x":0.29,"y":0.472},{"g":"k","x":0.3,"y":0.469},{"g":"k","x":0.31,"y":0.471},{"g":"k","x":0.32,"y":0.468},
{"g":"k","x":0.15,"y":0.455},{"g":"k","x":0.155,"y":0.454},{"g":"k","x":0.16,"y":0.456},{"g":"k","x":0.165,"y":0.455},{"g":"k","x":0.17,"y":0.453},{"g":"k","x":0.175,"y":0.456},{"g":"k","x":0.18,"y":0.454},{"g":"k","x":0.185,"y":0.457},{"g":"k","x":0.19,"y":0.453},{"g":"k","x":0.195,"y":0.456},{"g":"k","x":0.2,"y":0.454},{"g":"k","x":0.205,"y":0.457},{"g":"k","x":0.21,"y":0.453},{"g":"k","x":0.215,"y":0.456},{"g":"k","x":0.22,"y":0.454},{"g":"k","x":0.225,"y":0.457},{"g":"k","x":0.23,"y":0.453},{"g":"k","x":0.235,"y":0.456},{"g":"k","x":0.24,"y":0.454},{"g":"k","x":0.245,"y":0.457},{"g":"k","x":0.25,"y":0.453},{"g":"k","x":0.255,"y":0.456},{"g":"k","x":0.26,"y":0.454},{"g":"k","x":0.265,"y":0.457},{"g":"k","x":0.27,"y":0.453},{"g":"k","x":0.275,"y":0.456},{"g":"k","x":0.28,"y":0.454},{"g":"k","x":0.285,"y":0.457},{"g":"k","x":0.29,"y":0.453},{"g":"k","x":0.295,"y":0.456},{"g":"k","x":0.3,"y":0.454},{"g":"k","x":0.305,"y":0.457},{"g":"k","x":0.31,"y":0.453},{"g":"k","x":0.315,"y":0.456},{"g":"k","x":0.32,"y":0.454},{"g":"k","x":0.325,"y":0.457},{"g":"k","x":0.33,"y":0.453},{"g":"k","x":0.335,"y":0.456},{"g":"k","x":0.34,"y":0.454},{"g":"k","x":0.345,"y":0.456},
{"g":"k","x":0.17,"y":0.445},{"g":"k","x":0.18,"y":0.443},{"g":"k","x":0.19,"y":0.446},{"g":"k","x":0.2,"y":0.442},{"g":"k","x":0.21,"y":0.445},{"g":"k","x":0.22,"y":0.443},{"g":"k","x":0.23,"y":0.446},{"g":"k","x":0.24,"y":0.442},{"g":"k","x":0.25,"y":0.445},{"g":"k","x":0.26,"y":0.443},{"g":"k","x":0.27,"y":0.446},{"g":"k","x":0.28,"y":0.442},{"g":"k","x":0.29,"y":0.445},{"g":"k","x":0.3,"y":0.443},{"g":"k","x":0.31,"y":0.446},{"g":"k","x":0.32,"y":0.442},{"g":"k","x":0.33,"y":0.445},
{"g":"k","x":0.17,"y":0.43},{"g":"k","x":0.18,"y":0.428},{"g":"k","x":0.19,"y":0.432},{"g":"k","x":0.2,"y":0.429},{"g":"k","x":0.21,"y":0.431},{"g":"k","x":0.22,"y":0.427},{"g":"k","x":0.23,"y":0.432},{"g":"k","x":0.24,"y":0.429},{"g":"k","x":0.25,"y":0.431},{"g":"k","x":0.26,"y":0.428},{"g":"k","x":0.27,"y":0.432},{"g":"k","x":0.28,"y":0.429},{"g":"k","x":0.29,"y":0.431},{"g":"k","x":0.3,"y":0.428},{"g":"k","x":0.31,"y":0.43},{"g":"k","x":0.32,"y":0.429},
{"g":"k","x":0.18,"y":0.415},{"g":"k","x":0.19,"y":0.413},{"g":"k","x":0.2,"y":0.417},{"g":"k","x":0.21,"y":0.414},{"g":"k","x":0.22,"y":0.416},{"g":"k","x":0.23,"y":0.413},{"g":"k","x":0.24,"y":0.417},{"g":"k","x":0.25,"y":0.414},{"g":"k","x":0.26,"y":0.416},{"g":"k","x":0.27,"y":0.413},{"g":"k","x":0.28,"y":0.417},{"g":"k","x":0.29,"y":0.414},{"g":"k","x":0.3,"y":0.416},
{"g":"k","x":0.2,"y":0.405},{"g":"k","x":0.21,"y":0.403},{"g":"k","x":0.22,"y":0.406},{"g":"k","x":0.23,"y":0.402},{"g":"k","x":0.24,"y":0.405},{"g":"k","x":0.25,"y":0.403},{"g":"k","x":0.26,"y":0.406},{"g":"k","x":0.27,"y":0.402},{"g":"k","x":0.28,"y":0.405},{"g":"k","x":0.29,"y":0.403},{"g":"k","x":0.3,"y":0.406},
{"g":"k","x":0.33,"y":0.395},{"g":"k","x":0.335,"y":0.397},{"g":"k","x":0.34,"y":0.394},
{"g":"k","x":0.19,"y":0.38},{"g":"k","x":0.195,"y":0.378},{"g":"k","x":0.2,"y":0.382},{"g":"k","x":0.205,"y":0.379},{"g":"k","x":0.21,"y":0.381},{"g":"k","x":0.215,"y":0.378},{"g":"k","x":0.22,"y":0.38},{"g":"k","x":0.28,"y":0.38},{"g":"k","x":0.29,"y":0.378},{"g":"k","x":0.3,"y":0.381},{"g":"k","x":0.31,"y":0.379},{"g":"k","x":0.32,"y":0.38},
{"g":"k","x":0.19,"y":0.37},{"g":"k","x":0.2,"y":0.368},{"g":"k","x":0.21,"y":0.371},{"g":"k","x":0.26,"y":0.37},{"g":"k","x":0.27,"y":0.372},{"g":"k","x":0.28,"y":0.369},
{"g":"k","x":0.24,"y":0.36},{"g":"k","x":0.245,"y":0.358},{"g":"k","x":0.25,"y":0.362},{"g":"k","x":0.255,"y":0.359},{"g":"k","x":0.26,"y":0.361},{"g":"k","x":0.265,"y":0.358},{"g":"k","x":0.27,"y":0.36},{"g":"k","x":0.275,"y":0.362},{"g":"k","x":0.28,"y":0.359},{"g":"k","x":0.25,"y":0.35},{"g":"k","x":0.26,"y":0.352},
{"g":"k","x":0.16,"y":0.45},{"g":"k","x":0.17,"y":0.47},{"g":"k","x":0.18,"y":0.5},{"g":"k","x":0.17,"y":0.58},{"g":"k","x":0.31,"y":0.385},{"g":"k","x":0.185,"y":0.44},

{"g":"a","k":"l","x":0.145,"y":0.4569},{"g":"a","k":"l","x":0.342,"y":0.458},
{"g":"b","k":"l","x":0.145,"y":0.4537},{"g":"b","k":"l","x":0.345,"y":0.4519},
{"g":"c","k":"l","x":0.135,"y":0.4493},{"g":"c","k":"l","x":0.355,"y":0.4546},
{"g":"d","k":"l","x":0.18,"y":0.4575},{"g":"d","k":"l","x":0.345,"y":0.4552},
{"g":"e","k":"l","x":0.165,"y":0.4479},{"g":"e","k":"l","x":0.345,"y":0.462},
{"g":"f","k":"l","x":0.16,"y":0.447},{"g":"f","k":"l","x":0.34,"y":0.4606},
{"g":"g","k":"l","x":0.155,"y":0.4709},{"g":"g","k":"l","x":0.34,"y":0.4458},
{"g":"h","k":"l","x":0.155,"y":0.4524},{"g":"h","k":"l","x":0.345,"y":0.4565},
{"g":"i","k":"l","x":0.185,"y":0.4454},{"g":"i","k":"l","x":0.345,"y":0.463},
{"g":"j","k":"l","x":0.17,"y":0.4596},{"g":"j","k":"l","x":0.34,"y":0.4493},
{"g":"k","k":"l","x":0.15,"y":0.4536},{"g":"k","k":"l","x":0.345,"y":0.4556},

{"g":"a","k":"b","x":0.145,"lo":0.4489,"hi":0.4649},{"g":"a","k":"b","x":0.19,"lo":0.4531,"hi":0.4611},{"g":"a","k":"b","x":0.245,"lo":0.4545,"hi":0.4605},{"g":"a","k":"b","x":0.3,"lo":0.4538,"hi":0.4618},{"g":"a","k":"b","x":0.342,"lo":0.451,"hi":0.465},
{"g":"b","k":"b","x":0.145,"lo":0.4377,"hi":0.4697},{"g":"b","k":"b","x":0.195,"lo":0.4452,"hi":0.4612},{"g":"b","k":"b","x":0.245,"lo":0.4478,"hi":0.4578},{"g":"b","k":"b","x":0.295,"lo":0.4443,"hi":0.4603},{"g":"b","k":"b","x":0.345,"lo":0.4359,"hi":0.4679},
{"g":"c","k":"b","x":0.135,"lo":0.4463,"hi":0.4523},{"g":"c","k":"b","x":0.19,"lo":0.4491,"hi":0.4521},{"g":"c","k":"b","x":0.245,"lo":0.4509,"hi":0.4529},{"g":"c","k":"b","x":0.3,"lo":0.4518,"hi":0.4548},{"g":"c","k":"b","x":0.355,"lo":0.4516,"hi":0.4576},
{"g":"d","k":"b","x":0.18,"lo":0.4355,"hi":0.4795},{"g":"d","k":"b","x":0.22,"lo":0.445,"hi":0.469},{"g":"d","k":"b","x":0.262,"lo":0.4484,"hi":0.4644},{"g":"d","k":"b","x":0.305,"lo":0.4438,"hi":0.4678},{"g":"d","k":"b","x":0.345,"lo":0.4332,"hi":0.4772},
{"g":"e","k":"b","x":0.165,"lo":0.4349,"hi":0.4609},{"g":"e","k":"b","x":0.21,"lo":0.4455,"hi":0.4575},{"g":"e","k":"b","x":0.255,"lo":0.451,"hi":0.459},{"g":"e","k":"b","x":0.3,"lo":0.4525,"hi":0.4645},{"g":"e","k":"b","x":0.345,"lo":0.45,"hi":0.474},
{"g":"f","k":"b","x":0.16,"lo":0.44,"hi":0.454},{"g":"f","k":"b","x":0.205,"lo":0.4464,"hi":0.4544},{"g":"f","k":"b","x":0.25,"lo":0.4508,"hi":0.4568},{"g":"f","k":"b","x":0.295,"lo":0.4532,"hi":0.4612},{"g":"f","k":"b","x":0.34,"lo":0.4536,"hi":0.4676},
{"g":"g","k":"b","x":0.155,"lo":0.4649,"hi":0.4769},{"g":"g","k":"b","x":0.2,"lo":0.4618,"hi":0.4678},{"g":"g","k":"b","x":0.25,"lo":0.456,"hi":0.46},{"g":"g","k":"b","x":0.295,"lo":0.4489,"hi":0.4549},{"g":"g","k":"b","x":0.34,"lo":0.4408,"hi":0.4508},
{"g":"h","k":"b","x":0.155,"lo":0.4174,"hi":0.4874},{"g":"h","k":"b","x":0.2,"lo":0.4353,"hi":0.4713},{"g":"h","k":"b","x":0.25,"lo":0.4424,"hi":0.4664},{"g":"h","k":"b","x":0.3,"lo":0.4375,"hi":0.4735},{"g":"h","k":"b","x":0.345,"lo":0.4215,"hi":0.4915},
{"g":"i","k":"b","x":0.185,"lo":0.4414,"hi":0.4494},{"g":"i","k":"b","x":0.225,"lo":0.4478,"hi":0.4518},{"g":"i","k":"b","x":0.265,"lo":0.4527,"hi":0.4557},{"g":"i","k":"b","x":0.305,"lo":0.4566,"hi":0.4606},{"g":"i","k":"b","x":0.345,"lo":0.459,"hi":0.467},
{"g":"j","k":"b","x":0.17,"lo":0.4296,"hi":0.4896},{"g":"j","k":"b","x":0.212,"lo":0.4421,"hi":0.4721},{"g":"j","k":"b","x":0.255,"lo":0.4435,"hi":0.4655},{"g":"j","k":"b","x":0.297,"lo":0.4349,"hi":0.4689},{"g":"j","k":"b","x":0.34,"lo":0.4143,"hi":0.4843},
{"g":"k","k":"b","x":0.15,"lo":0.4506,"hi":0.4566},{"g":"k","k":"b","x":0.2,"lo":0.4526,"hi":0.4556},{"g":"k","k":"b","x":0.25,"lo":0.4536,"hi":0.4556},{"g":"k","k":"b","x":0.3,"lo":0.4536,"hi":0.4566},{"g":"k","k":"b","x":0.345,"lo":0.4526,"hi":0.4586},

{"g":"a","k":"t","eq":"y = 0.456 + 0.00593 x"},
{"g":"b","k":"t","eq":"y = 0.455 − 0.00899 x"},
{"g":"c","k":"t","eq":"y = 0.446 + 0.0242 x"},
{"g":"d","k":"t","eq":"y = 0.46 − 0.0138 x"},
{"g":"e","k":"t","eq":"y = 0.435 + 0.0784 x"},
{"g":"f","k":"t","eq":"y = 0.435 + 0.0753 x"},
{"g":"g","k":"t","eq":"y = 0.492 − 0.136 x"},
{"g":"h","k":"t","eq":"y = 0.449 + 0.0217 x"},
{"g":"i","k":"t","eq":"y = 0.425 + 0.11 x"},
{"g":"j","k":"t","eq":"y = 0.47 − 0.0609 x"},
{"g":"k","k":"t","eq":"y = 0.452 + 0.0104 x"}
]},
"transform": [{"lookup": "g", "from": {"data": {"values": [
 {"g":"a","family":"Altingiaceae"},{"g":"b","family":"Cercidiphyllaceae"},{"g":"c","family":"Crassulaceae"},{"g":"d","family":"Daphniphyllaceae"},{"g":"e","family":"Grossulariaceae"},{"g":"f","family":"Haloragaceae"},{"g":"g","family":"Hamamelidaceae"},{"g":"h","family":"Iteaceae"},{"g":"i","family":"Paeoniaceae"},{"g":"j","family":"Penthoraceae"},{"g":"k","family":"Saxifragaceae"}]}, "key": "g", "fields": ["family"]}}],
"facet": {"field": "g", "type": "nominal", "header": {"labels": false, "title": null, "labelExpr": "''", "labelFontSize": 0, "labelPadding": 0}},
"columns": 4,
"spacing": {"row": 51, "column": 57},
"bounds": "flush",
"resolve": {"axis": {"x": "independent", "y": "independent"}},
"spec": {
 "width": 131, "height": 126,
 "layer": [
  {"transform": [{"filter": "!datum.k"}],
   "mark": {"type": "circle", "opacity": 0.75},
   "encoding": {
    "x": {"field": "x", "type": "quantitative", "title": "GC3", "scale": {"domain": [0.1, 0.4], "nice": false, "zero": false}, "axis": {"values": [0.1, 0.2, 0.3, 0.4], "format": ".1f", "labelOverlap": false, "tickCount": 4}},
    "y": {"field": "y", "type": "quantitative", "title": "GC12", "scale": {"domain": [0.3, 0.7], "nice": false, "zero": false}, "axis": {"values": [0.3, 0.4, 0.5, 0.6, 0.7], "format": ".1f", "labelOverlap": false, "tickCount": 5}},
    "color": {"field": "family", "type": "nominal", "scale": {"domain": ["Altingiaceae","Cercidiphyllaceae","Crassulaceae","Daphniphyllaceae","Grossulariaceae","Haloragaceae","Hamamelidaceae","Iteaceae","Paeoniaceae","Penthoraceae","Saxifragaceae"], "range": ["#0b5cb5","#d0141c","#17b894","#f2c55c","#8fd0f7","#1f7fd6","#a8dc8a","#f6aeae","#f7931e","#c8e82a","#c9aedb"]}},
    "size": {"condition": {"test": "datum.g == 'c' || datum.g == 'k'", "value": 5}, "value": 13}
   }},
  {"transform": [{"filter": "datum.k == 'b'"}],
   "mark": {"type": "area", "color": "#b5b5b5", "opacity": 0.5},
   "encoding": {
    "x": {"field": "x", "type": "quantitative", "title": "GC3", "axis": {"values": [0.1, 0.2, 0.3, 0.4], "format": ".1f", "labelOverlap": false, "tickCount": 4}},
    "y": {"field": "lo", "type": "quantitative", "title": "GC12", "axis": {"values": [0.3, 0.4, 0.5, 0.6, 0.7], "format": ".1f", "labelOverlap": false, "tickCount": 5}},
    "y2": {"field": "hi"}}},
  {"transform": [{"filter": "datum.k == 'l'"}],
   "mark": {"type": "line", "strokeWidth": 1.5},
   "encoding": {
    "x": {"field": "x", "type": "quantitative", "title": "GC3", "axis": {"values": [0.1, 0.2, 0.3, 0.4], "format": ".1f", "labelOverlap": false, "tickCount": 4}},
    "y": {"field": "y", "type": "quantitative", "title": "GC12", "axis": {"values": [0.3, 0.4, 0.5, 0.6, 0.7], "format": ".1f", "labelOverlap": false, "tickCount": 5}},
    "color": {"field": "family", "type": "nominal"}}},
  {"transform": [{"filter": "datum.k == 't'"}],
   "mark": {"type": "text", "align": "left", "baseline": "middle", "font": "Liberation Serif", "fontWeight": "bold", "fontSize": 7, "color": "#000000"},
   "encoding": {
    "x": {"datum": 0.1, "type": "quantitative", "title": "GC3", "axis": {"values": [0.1, 0.2, 0.3, 0.4], "format": ".1f", "labelOverlap": false, "tickCount": 4}},
    "y": {"datum": 0.683, "type": "quantitative", "title": "GC12", "axis": {"values": [0.3, 0.4, 0.5, 0.6, 0.7], "format": ".1f", "labelOverlap": false, "tickCount": 5}},
    "text": {"field": "eq"}}}
 ]
}
}
